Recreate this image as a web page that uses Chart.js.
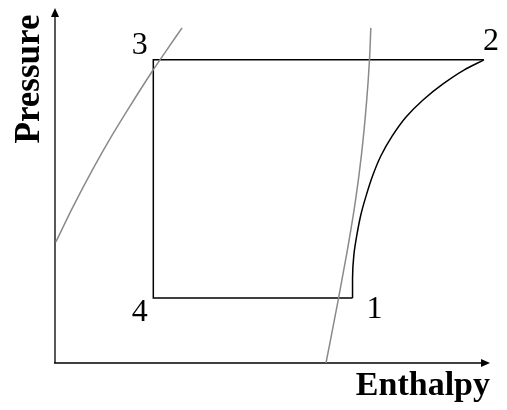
<!DOCTYPE html>
<html lang="en">
<head>
<meta charset="UTF-8">
<title>Pressure - Enthalpy</title>
<script src="https://cdn.jsdelivr.net/npm/chart.js"></script>
<style>
  html, body { margin: 0; padding: 0; background: #fff; }
  canvas { display: block; }
</style>
</head>
<body>
<canvas id="phChart" width="507" height="410"></canvas>
<script>
// refrigeration cycle on a P-h sketch, arbitrary units (0..100 on both axes)

// cycle: 1 -> 4 -> 3 -> 2 (straight segments)
const cycleH = [68.4, 22.6, 22.6, 98.6];
const cycleP = [18.3, 18.3, 85.4, 85.4];

// compression 1 -> 2 (curved)
const compH = [68.4, 68.4, 68.7, 69.4, 70.3, 71.5, 73.1, 74.9, 77.5, 80.7, 84.6, 89.2, 94.0, 98.6];
const compP = [18.3, 23.9, 30.4, 36.1, 41.7, 47.0, 53.0, 58.3, 63.9, 69.3, 74.1, 78.6, 82.5, 85.4];

// saturated liquid line (left, grey)
const liqH = [0.2, 4.1, 8.6, 12.9, 17.1, 22.1, 25.2, 29.2];
const liqP = [34.1, 43.9, 54.4, 63.7, 72.1, 81.7, 87.3, 94.4];

// saturated vapour line (right, grey)
const vapH = [62.3, 65.1, 67.1, 69.0, 70.5, 71.6, 72.3, 72.6];
const vapP = [0, 17.7, 31.0, 45.1, 59.2, 73.2, 85.4, 94.4];

// state point labels
const stateNames = ['1', '2', '3', '4'];
const stateH = [68.4, 98.6, 22.6, 22.6];
const stateP = [18.3, 85.4, 85.4, 18.3];

const xTitle = 'Enthalpy';
const yTitle = 'Pressure';

const zip = (xs, ys) => xs.map((x, i) => ({ x: x, y: ys[i] }));

function arrow(ctx, tipX, tipY, dir) {
    // dir: 'up' or 'right'
    ctx.beginPath();
    if (dir === 'up') {
        ctx.moveTo(tipX, tipY);
        ctx.lineTo(tipX - 4, tipY + 9);
        ctx.lineTo(tipX + 4, tipY + 9);
    } else {
        ctx.moveTo(tipX, tipY);
        ctx.lineTo(tipX - 9, tipY - 4);
        ctx.lineTo(tipX - 9, tipY + 4);
    }
    ctx.closePath();
    ctx.fill();
}

const sketchPlugin = {
    id: 'sketch',
    beforeDatasetsDraw(chart) {
        const ctx = chart.ctx;
        const xs = chart.scales.x, ys = chart.scales.y;
        const x0 = xs.getPixelForValue(0), x1 = xs.getPixelForValue(100);
        const y0 = ys.getPixelForValue(0), y1 = ys.getPixelForValue(100);
        ctx.save();
        // y axis
        ctx.strokeStyle = '#595959';
        ctx.fillStyle = '#000';
        ctx.lineWidth = 2;
        ctx.beginPath();
        ctx.moveTo(x0, y0);
        ctx.lineTo(x0, y1 + 6);
        ctx.stroke();
        arrow(ctx, x0, y1, 'up');
        // x axis
        ctx.strokeStyle = '#000';
        ctx.lineWidth = 1.5;
        ctx.beginPath();
        ctx.moveTo(x0 - 1, y0);
        ctx.lineTo(x1 - 6, y0);
        ctx.stroke();
        arrow(ctx, x1, y0, 'right');
        ctx.restore();
    },
    afterDraw(chart) {
        const ctx = chart.ctx;
        const xs = chart.scales.x, ys = chart.scales.y;
        // offsets of each state label from its point: [dx, dy(baseline)]
        const offs = { '1': [22, 20], '2': [7, -10], '3': [-13.6, -6], '4': [-13.6, 23] };
        ctx.save();
        ctx.fillStyle = '#000';
        ctx.font = '32px "Liberation Serif", serif';
        ctx.textAlign = 'center';
        ctx.textBaseline = 'alphabetic';
        stateNames.forEach((n, i) => {
            const px = xs.getPixelForValue(stateH[i]);
            const py = ys.getPixelForValue(stateP[i]);
            ctx.fillText(n, px + offs[n][0], py + offs[n][1]);
        });
        // axis titles
        ctx.font = 'bold 34px "Liberation Serif", serif';
        ctx.textAlign = 'right';
        ctx.fillText(xTitle, 490, 395);
        ctx.font = 'bold 35px "Liberation Serif", serif';
        ctx.translate(39, 79);
        ctx.rotate(-Math.PI / 2);
        ctx.textAlign = 'center';
        ctx.fillText(yTitle, 0, 0);
        ctx.restore();
    }
};

// curves are single-valued in pressure, so interpolate along y
const curveOpts = { showLine: true, borderWidth: 1.5, indexAxis: 'y', cubicInterpolationMode: 'monotone' };

new Chart(document.getElementById('phChart').getContext('2d'), {
    type: 'scatter',
    data: {
        datasets: [
            Object.assign({ label: 'Saturated liquid', data: zip(liqH, liqP), borderColor: '#8a8a8a' }, curveOpts),
            Object.assign({ label: 'Saturated vapour', data: zip(vapH, vapP), borderColor: '#8a8a8a' }, curveOpts),
            {
                label: 'Cycle',
                data: zip(cycleH, cycleP),
                showLine: true,
                borderColor: '#000',
                borderWidth: 1.5,
                tension: 0
            },
            Object.assign({ label: 'Compression', data: zip(compH, compP), borderColor: '#000' }, curveOpts)
        ]
    },
    options: {
        responsive: false,
        animation: false,
        layout: { padding: { left: 55, right: 17, top: 8, bottom: 47 } },
        elements: { point: { radius: 0, hoverRadius: 0 } },
        plugins: {
            legend: { display: false },
            tooltip: { enabled: false }
        },
        scales: {
            x: { type: 'linear', min: 0, max: 100, display: false },
            y: { type: 'linear', min: 0, max: 100, display: false }
        }
    },
    plugins: [sketchPlugin]
});
</script>
</body>
</html>
